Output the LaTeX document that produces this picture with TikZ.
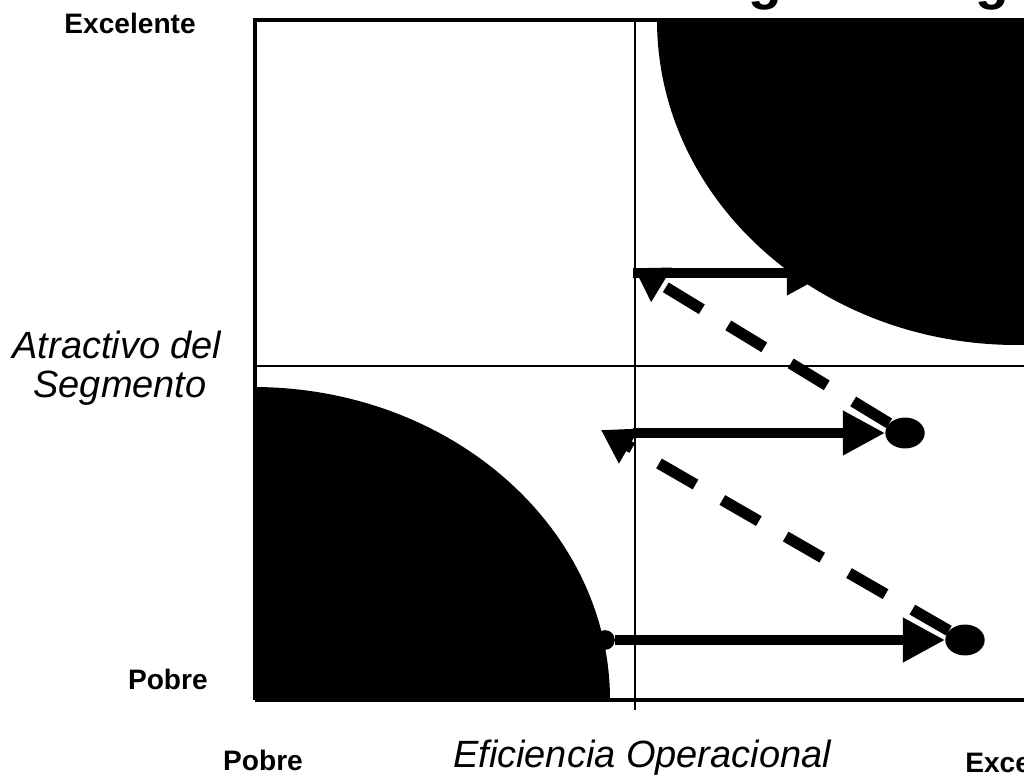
\documentclass[tikz,border=0pt]{standalone}
\usepackage{fontspec}
\setmainfont{Liberation Sans}
\usetikzlibrary{arrows.meta, shapes.geometric}

\begin{document}
\begin{tikzpicture}[
    x=0.025cm, y=-0.025cm,
    heading/.style={font=\bfseries\fontsize{39.3}{44}\selectfont, inner sep=0pt},
    level/.style={font=\bfseries\fontsize{20}{24}\selectfont, inner sep=0pt},
    axisname/.style={font=\itshape\fontsize{27}{30}\selectfont, inner sep=0pt},
    frame/.style={line width=2.2pt},
    divider/.style={line width=1.5pt},
    dot/.style={ellipse, fill=black, minimum width=28pt, minimum height=22pt, inner sep=0pt},
    move/.style={-{Triangle[length=30pt, width=30pt]}, line width=7pt},
    drift/.style={-{Triangle[length=23pt, width=27pt]}, line width=8pt, dash pattern=on 30pt off 22pt}
]
    \useasboundingbox (0,0) rectangle (1024,780);

    \node[heading, anchor=base west] (title) at (561,-1) {Estrategia a Largo Plazo};

    \begin{scope}
        \clip (255,20) rectangle (1040,700);
        \fill (1017,20) ellipse [x radius=360, y radius=325];
        \fill (253,700) ellipse [x radius=357, y radius=313];
    \end{scope}
    \draw[frame] (1040,20) -- (255,20) -- (255,700);
    \draw[frame, line width=3pt] (255,700) -- (1040,700);
    \draw[divider] (635,20) -- (635,710);
    \draw[divider] (255,366) -- (1040,366);

    \node[level, anchor=base east] (yhigh) at (196,34) {Excelente};
    \node[level, anchor=base east] (ylow) at (208,689) {Pobre};
    \node[axisname, anchor=base] (yname) at (117,358) {Atractivo del};
    \node[axisname, anchor=base] (yname2) at (120,397) {Segmento};
    \node[level, anchor=base] (xlow) at (263,770) {Pobre};
    \node[axisname, anchor=base] (xname) at (642,767) {Eficiencia Operacional};
    \node[level, anchor=base west] (xhigh) at (965,772) {Excelente};

    \coordinate (s1) at (633,273);
    \coordinate (e1) at (829,273);
    \coordinate (s2) at (633,433);
    \coordinate (t1) at (634,268);
    \coordinate (t2) at (601,430);
    \node[circle, fill=black, minimum size=14pt, inner sep=0pt] (d0) at (605,640) {};
    \node[dot] (d1) at (905,433) {};
    \node[dot] (d2) at (965,640) {};

    \draw[move] (s1) -- (e1);
    \draw[move] (s2) -- (d1.west);
    \draw[move] (d0.east) -- (d2.west);
    \draw[drift] (d1) -- (t1);
    \draw[drift] (d2) -- (t2);
\end{tikzpicture}
\end{document}
